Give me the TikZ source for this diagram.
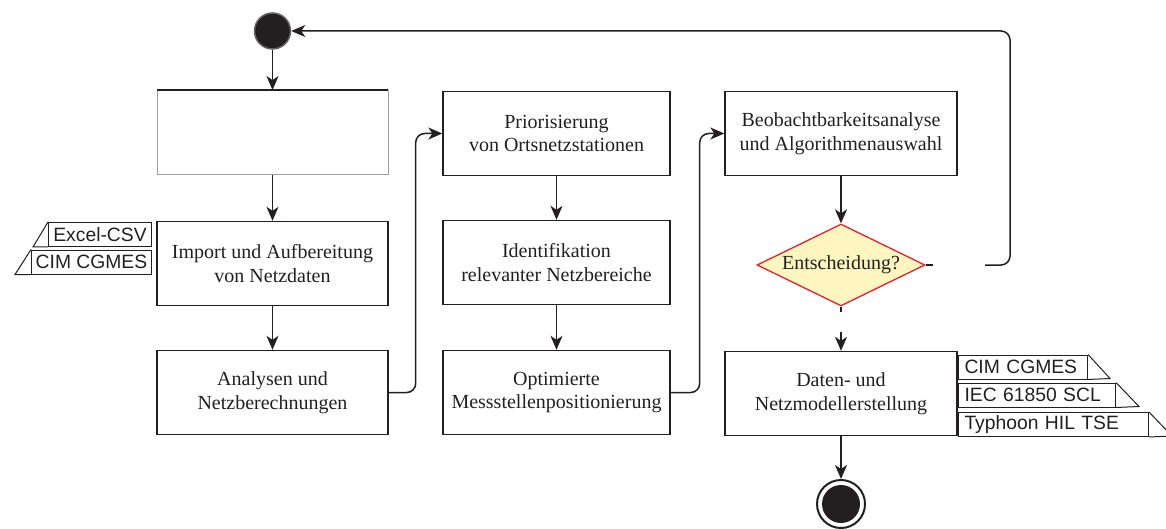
\documentclass[tikz,border=0pt]{standalone}
\usepackage{fontspec}
\setmainfont{Liberation Serif}
\newfontfamily\tagfont{Liberation Sans}
\usetikzlibrary{arrows.meta,shapes.geometric}
\definecolor{ink}{RGB}{35,31,32}
\definecolor{decfill}{RGB}{253,246,192}
\definecolor{decline}{RGB}{232,32,42}
\definecolor{thin}{RGB}{160,160,160}
\begin{document}
\begin{tikzpicture}[x=1pt,y=-1pt,
  box/.style={draw=ink, line width=1.4pt, minimum height=84pt, align=center,
    font=\fontsize{20}{23.5}\selectfont, text=ink, inner sep=0pt},
  col1/.style={box, minimum width=231pt},
  col2/.style={box, minimum width=227pt},
  col3/.style={box, minimum width=232pt},
  flow/.style={draw=ink, line width=1.5pt, rounded corners=9pt,
    -{Stealth[length=14pt,width=12pt,inset=4pt]}},
  plain/.style={draw=ink, line width=1.5pt},
  tagbox/.style={draw=ink, line width=1pt, font=\tagfont\fontsize{19.3}{21}\selectfont,
    text=ink, inner ysep=0pt, inner xsep=6pt, minimum height=24pt},
  corner/.style={draw=ink, line width=1pt, line join=miter}]

\useasboundingbox (0,0) rectangle (1166,529);
\clip (0,0) rectangle (1166,529);

% initial and final states
\node[circle, fill=ink, draw=ink!70, line width=1.5pt, minimum size=36pt, inner sep=0pt] (start) at (272.5,31) {};
\node[circle, draw=ink, line width=2pt, minimum size=48pt, inner sep=0pt] (final) at (841,504) {};
\node[circle, fill=ink, minimum size=38pt, inner sep=0pt] (finaldot) at (final) {};

% column 1
\node[col1, draw=thin, line width=0.8pt] (empty) at (272.5,132.5) {};
\draw[ink, line width=1.2pt] (empty.north west) -- (empty.north east);
\node[col1] (import) at (272.5,263.5) {Import und Aufbereitung\\von Netzdaten};
\node[col1] (analyse) at (272.5,392.5) {Analysen und\\Netzberechnungen};

% column 2
\node[col2] (prior) at (556.5,133.5) {Priorisierung\\von Ortsnetzstationen};
\node[col2] (ident) at (556.5,262.5) {Identifikation\\relevanter Netzbereiche};
\node[col2] (optim) at (556.5,392.5) {Optimierte\\Messstellenpositionierung};

% column 3
\node[col3] (beob) at (841,133.5) {Beobachtbarkeitsanalyse\\und Algorithmenauswahl};
\node[diamond, aspect=2.1, draw=decline, fill=decfill, line width=1.3pt, minimum width=168pt,
  minimum height=82pt, inner sep=0pt, font=\fontsize{20}{23.5}\selectfont, text=ink] (dec) at (841,265) {Entscheidung?};
\node[col3] (daten) at (841,393.5) {Daten- und\\Netzmodellerstellung};

% data format tags
\node[tagbox, minimum width=103pt, inner xsep=2pt, anchor=east] (csv) at (152,234.5) {Excel-CSV};
\draw[corner] (csv.south west) -- ++(-15,0) -- (csv.north west);
\node[tagbox, minimum width=120pt, inner xsep=2pt, anchor=east] (cgmesin) at (152,262) {CIM CGMES};
\draw[corner] (cgmesin.south west) -- ++(-16,0) -- (cgmesin.north west);

\node[tagbox, text width=117pt, align=left, anchor=west] (cgmesout) at (958,367) {CIM CGMES};
\draw[corner] (cgmesout.north east) -- ++(22,24) -- (cgmesout.south east);
\node[tagbox, text width=145pt, align=left, anchor=west] (scl) at (958,395) {IEC 61850 SCL};
\draw[corner] (scl.north east) -- ++(23,24) -- (scl.south east);
\node[tagbox, text width=178pt, align=left, anchor=west] (tse) at (958,424.5) {Typhoon HIL TSE};
\draw[corner] (tse.north east) -- ++(23,24) -- (tse.south east);

% control flow
\draw[flow] (start) -- (empty);
\draw[flow] (empty) -- (import);
\draw[flow] (import) -- (analyse);
\draw[flow] (analyse.east) -- ++(27,0) |- (prior.west);
\draw[flow] (prior) -- (ident);
\draw[flow] (ident) -- (optim);
\draw[flow] (optim.east) -- ++(29,0) |- (beob.west);
\draw[flow] (beob) -- (dec);

% decision branches
\coordinate (yesstub) at (933,265);
\coordinate (yesfrom) at (985,265);
\coordinate (nostub) at (841,312);
\coordinate (nofrom) at (841,332);
\draw[plain] (dec.east) -- (yesstub);
\draw[flow] (yesfrom) -- ++(25,0) |- (start.east);
\draw[plain] (dec.south) -- (nostub);
\draw[flow] (nofrom) -- (daten);
\draw[flow] (daten) -- (final);
\end{tikzpicture}
\end{document}
